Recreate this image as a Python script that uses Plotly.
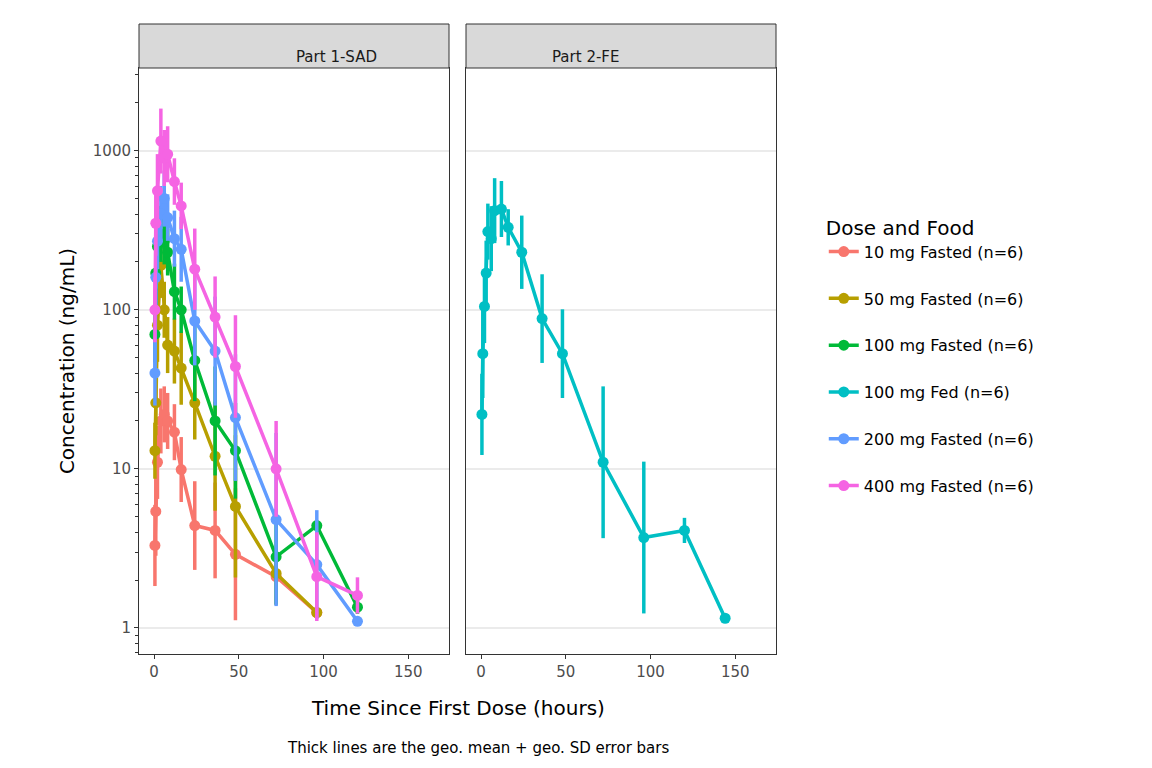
import plotly.graph_objects as go
import numpy as np

labels = ['10 mg Fasted (n=6)', '50 mg Fasted (n=6)', '100 mg Fasted (n=6)',
          '100 mg Fed (n=6)', '200 mg Fasted (n=6)', '400 mg Fasted (n=6)']
colors = ['#F8766D', '#B79F00', '#00BA38', '#00BFC4', '#619CFF', '#F564E3']
panels = [1, 1, 1, 2, 1, 1]

times = [
    [0.5, 1, 2, 4, 6, 8, 12, 16, 24, 36, 48, 72, 96],
    [0.5, 1, 2, 4, 6, 8, 12, 16, 24, 36, 48, 72, 96],
    [0.5, 1, 2, 4, 6, 8, 12, 16, 24, 36, 48, 72, 96, 120],
    [0.5, 1, 2, 3, 4, 6, 8, 12, 16, 24, 36, 48, 72, 96, 120, 144],
    [0.5, 1, 2, 4, 6, 8, 12, 16, 24, 36, 48, 72, 96, 120],
    [0.5, 1, 2, 4, 6, 8, 12, 16, 24, 36, 48, 72, 96, 120],
]
conc = [
    [3.3, 5.4, 11, 20, 22, 20, 17, 9.9, 4.4, 4.1, 2.9, 2.1, 1.25],
    [13, 26, 80, 190, 100, 60, 55, 43, 26, 12, 5.8, 2.2, 1.25],
    [70, 170, 250, 300, 270, 230, 130, 100, 48, 20, 13, 2.8, 4.4, 1.35],
    [22, 53, 105, 170, 310, 280, 420, 430, 330, 230, 88, 53, 11, 3.7, 4.1, 1.15],
    [40, 160, 270, 400, 500, 380, 280, 240, 85, 55, 21, 4.8, 2.5, 1.1],
    [100, 350, 560, 1150, 900, 950, 640, 450, 180, 90, 44, 10, 2.1, 1.6],
]
geo_sd = [
    [1.8, 1.9, 1.7, 1.6, 1.5, 1.5, 1.5, 1.6, 1.9, 2.0, 2.6, 1.5, 1.0],
    [1.5, 1.6, 1.7, 1.6, 1.5, 1.5, 1.6, 1.7, 1.7, 2.2, 2.8, 1.0, 1.0],
    [1.5, 1.6, 1.5, 1.5, 1.4, 1.4, 1.5, 1.4, 1.8, 2.2, 2.0, 2.0, 1.0, 1.1],
    [1.8, 1.9, 1.7, 1.6, 1.5, 1.6, 1.6, 1.5, 1.3, 1.7, 1.9, 1.9, 3.0, 3.0, 1.2, 1.0],
    [1.6, 1.5, 1.5, 1.5, 1.5, 1.4, 1.5, 1.6, 1.9, 2.2, 2.5, 3.5, 2.2, 1.0],
    [1.6, 1.6, 1.7, 1.6, 1.5, 1.5, 1.4, 1.4, 1.8, 1.8, 2.1, 2.0, 1.9, 1.3],
]

fig = go.Figure()
for lab, col, p, t, c, s in zip(labels, colors, panels, times, conc, geo_sd):
    c = np.array(c); s = np.array(s)
    fig.add_trace(go.Scatter(
        x=t, y=c, name=lab, legendgroup=lab, mode='lines+markers',
        line=dict(color=col, width=3.5), marker=dict(color=col, size=11),
        error_y=dict(type='data', array=c * s - c, arrayminus=c - c / s,
                     color=col, thickness=3.5, width=0),
        xaxis='x' if p == 1 else 'x2', yaxis='y' if p == 1 else 'y2'))

d1 = 310 / 637
d2 = 327 / 637
ph = 586
xax = dict(range=[-8.9, 174], tickvals=[0, 50, 100, 150], showgrid=False,
           zeroline=False, ticks='outside', ticklen=4, tickcolor='#333',
           tickfont=dict(size=15, color='#4d4d4d'), showline=True, mirror=True,
           linecolor='#333', linewidth=1)
yax = dict(type='log', range=[-0.164, 3.52], tickvals=[1, 10, 100, 1000],
           ticktext=['1', '10', '100', '1000'], gridcolor='#ebebeb', gridwidth=2,
           zeroline=False, ticks='outside', ticklen=4, tickcolor='#333',
           tickfont=dict(size=15, color='#4d4d4d'), showline=True, mirror=True,
           linecolor='#333', linewidth=1,
           minor=dict(ticks='outside', ticklen=3, tickcolor='#333', dtick='D1', showgrid=False))

strip_h = 44 / ph
fig.update_layout(
    width=1152, height=768, plot_bgcolor='white', paper_bgcolor='white',
    margin=dict(l=131, r=384, t=60, b=122, autoexpand=False),
    font=dict(family='DejaVu Sans', color='black'),
    xaxis=dict(xax, domain=[0, d1]),
    xaxis2=dict(xax, domain=[d2, 1]),
    yaxis=dict(yax, title=dict(text='Concentration (ng/mL)', font=dict(size=20), standoff=12),
               anchor='x'),
    yaxis2=dict(yax, anchor='x2', showticklabels=False, ticks='',
                minor=dict(ticks='', showgrid=False), matches='y'),
    legend=dict(x=1.075, y=0.76, yanchor='top', font=dict(size=16),
                title=dict(text='Dose and Food', font=dict(size=20)),
                tracegroupgap=23),
    shapes=[
        dict(type='rect', xref='paper', yref='paper', x0=0, x1=d1, y0=1, y1=1 + strip_h,
             fillcolor='#d9d9d9', line=dict(color='#333', width=1)),
        dict(type='rect', xref='paper', yref='paper', x0=d2, x1=1, y0=1, y1=1 + strip_h,
             fillcolor='#d9d9d9', line=dict(color='#333', width=1)),
    ],
    annotations=[
        dict(text='Part 1-SAD', xref='paper', yref='paper', x=d1 / 2, y=1 + strip_h / 2,
             showarrow=False, font=dict(size=15, color='#1a1a1a')),
        dict(text='Part 2-FE', xref='paper', yref='paper', x=(d2 + 1) / 2, y=1 + strip_h / 2,
             showarrow=False, font=dict(size=15, color='#1a1a1a')),
        dict(text='Time Since First Dose (hours)', xref='paper', yref='paper', x=0.5,
             y=-54 / ph, yanchor='middle', showarrow=False, font=dict(size=20)),
        dict(text='Thick lines are the geo. mean + geo. SD error bars', xref='paper', yref='paper',
             x=(470 - 131) / 637, y=-94 / ph, xanchor='center', yanchor='middle',
             showarrow=False, font=dict(size=15)),
    ],
)
fig.write_html('out.html')
